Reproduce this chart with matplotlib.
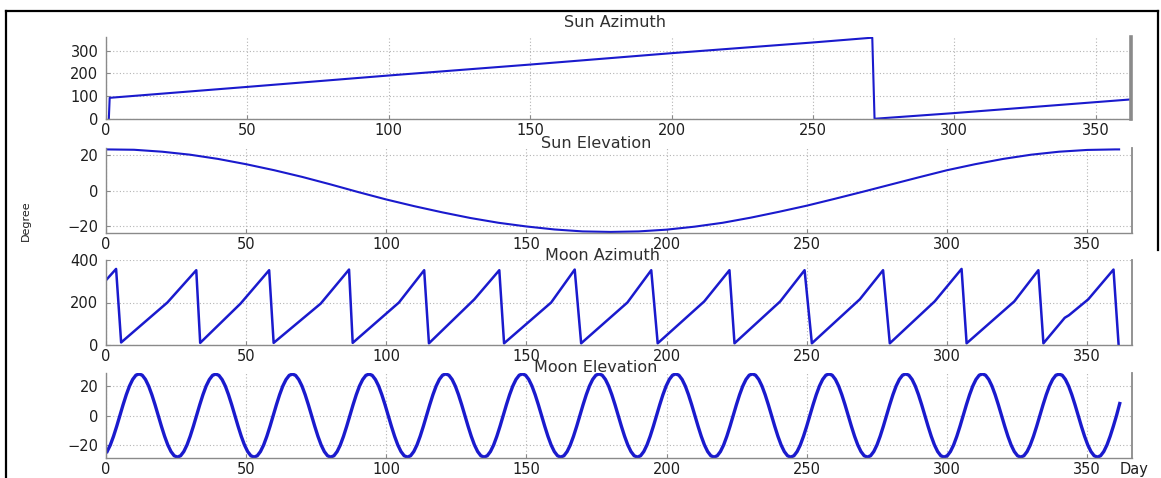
import numpy as np
import matplotlib
matplotlib.use("Agg")
import matplotlib.pyplot as plt
from matplotlib.lines import Line2D

# ---------------- data ----------------
titles = ["Sun Azimuth", "Sun Elevation", "Moon Azimuth", "Moon Elevation"]

sun_az_day = [1.0, 1.3, 50, 100, 150, 200, 250, 271.0, 271.8, 300, 362.5]
sun_az_val = [0, 93, 141, 191, 239, 289, 336, 357, 1, 26, 86]

sun_el_day = [0, 10, 20, 30, 40, 50, 60, 70, 80, 90, 100, 110, 120, 130, 140, 150,
              160, 170, 180, 190, 200, 210, 220, 230, 240, 250, 260, 270, 280, 290,
              300, 310, 320, 330, 340, 350, 360, 361.4]
sun_el_val = [23.4, 23.2, 22.1, 20.4, 18.0, 15.0, 11.6, 7.8, 3.6, -0.8, -5.0, -8.8,
              -12.3, -15.5, -18.2, -20.3, -22.0, -23.1, -23.4, -23.1, -22.1, -20.4,
              -18.2, -15.3, -12.0, -8.5, -4.6, -0.6, 3.5, 7.6, 11.6, 15.0, 18.0,
              20.4, 22.1, 23.1, 23.4, 23.4]

moon_az_day = [0, 3.6, 5.4, 21.9, 32.2, 33.6, 48.0, 58.2, 59.8, 76.6, 86.7, 88.0,
               104.5, 113.5, 115.2, 131.4, 140.3, 142.0, 158.8, 167.2, 169.5,
               186.0, 194.5, 196.8, 213.4, 222.4, 224.2, 240.5, 249.2, 251.8,
               268.9, 277.2, 279.6, 295.6, 305.2, 307.0, 324.0, 332.6, 334.4,
               342.0, 343.5, 350.4, 359.4, 361.2]
moon_az_val = [305, 358, 12, 200, 352, 10, 195, 352, 10, 195, 355, 10,
               200, 352, 8, 215, 352, 8, 200, 355, 8,
               200, 352, 8, 205, 352, 8, 205, 352, 8,
               215, 352, 8, 205, 358, 8, 205, 352, 8,
               128, 140, 215, 355, 5]

# moon elevation sampled every 1.1395 days starting at day 0.4
moon_el_start = 0.4
moon_el_step = 1.1395
moon_el_val = [
    -24.1, -19.7, -13.9, -7.2, 0.0, 7.2, 13.9, 19.7, 24.1, 26.9, 27.8, 26.9,
    24.1, 19.7, 13.9, 7.2, 0.0, -7.2, -13.9, -19.7, -24.1, -26.9, -27.8, -26.9,
    -24.1, -19.7, -13.9, -7.2, 0.0, 7.2, 13.9, 19.7, 24.0, 26.8, 27.7, 26.8,
    24.0, 19.7, 13.9, 7.2, 0.0, -7.2, -13.9, -19.7, -24.1, -26.9, -27.8, -26.9,
    -24.1, -19.7, -13.9, -7.2, 0.0, 7.2, 13.9, 19.7, 24.0, 26.8, 27.7, 26.8,
    24.0, 19.7, 13.9, 7.2, 0.0, -7.2, -13.9, -19.7, -24.1, -26.9, -27.8, -26.9,
    -24.1, -19.7, -13.9, -7.2, 0.0, 7.2, 13.9, 19.7, 24.0, 26.8, 27.7, 26.8,
    24.0, 19.7, 13.9, 7.2, 0.0, -7.2, -13.9, -19.7, -24.1, -26.9, -27.8, -26.9,
    -24.1, -19.7, -13.9, -7.2, 0.0, 7.2, 13.9, 19.7, 24.1, 26.9, 27.8, 26.9,
    24.1, 19.7, 13.9, 7.2, 0.0, -7.2, -13.9, -19.7, -24.1, -26.9, -27.8, -26.9,
    -24.1, -19.7, -13.9, -7.2, 0.0, 7.2, 13.9, 19.7, 24.1, 26.9, 27.8, 26.9,
    24.1, 19.7, 13.9, 7.2, 0.0, -7.2, -13.9, -19.7, -24.1, -26.9, -27.8, -26.9,
    -24.1, -19.7, -13.9, -7.2, 0.0, 7.2, 13.9, 19.7, 24.1, 26.9, 27.8, 26.9,
    24.1, 19.7, 13.9, 7.2, 0.0, -7.2, -13.9, -19.7, -24.1, -26.9, -27.8, -26.9,
    -24.1, -19.7, -13.9, -7.2, 0.0, 7.2, 13.9, 19.7, 24.1, 26.9, 27.8, 26.9,
    24.1, 19.7, 13.9, 7.2, 0.0, -7.2, -13.9, -19.7, -24.1, -26.9, -27.8, -26.9,
    -24.1, -19.7, -13.9, -7.2, 0.0, 7.2, 13.9, 19.7, 24.1, 26.9, 27.8, 26.9,
    24.1, 19.7, 13.9, 7.2, 0.0, -7.2, -13.9, -19.7, -24.1, -26.9, -27.8, -26.9,
    -24.1, -19.7, -13.9, -7.2, 0.0, 7.2, 13.9, 19.7, 24.1, 26.9, 27.8, 26.9,
    24.1, 19.7, 13.9, 7.2, 0.0, -7.2, -13.9, -19.7, -24.1, -26.9, -27.8, -26.9,
    -24.1, -19.7, -13.9, -7.2, 0.0, 7.2, 13.9, 19.7, 24.1, 26.9, 27.8, 26.9,
    24.1, 19.7, 13.9, 7.2, 0.0, -7.2, -13.9, -19.7, -24.1, -26.9, -27.8, -26.9,
    -24.1, -19.7, -13.9, -7.2, 0.0, 7.2, 13.9, 19.7, 24.1, 26.9, 27.8, 26.9,
    24.1, 19.7, 13.9, 7.2, 0.0, -7.2, -13.9, -19.7, -24.1, -26.9, -27.8, -26.9,
    -24.1, -19.7, -13.9, -7.2, 0.0, 7.2, 13.9, 19.7, 24.1, 26.9, 27.6, 26.9,
    24.1, 19.7, 13.9, 7.2, 0.0, -7.2, -13.9, -19.7, -24.1, -26.9, -27.8, -26.9,
    -24.1, -19.7, -13.9, -7.2, 0.0, 8.0,
]
moon_el_day = moon_el_start + moon_el_step * np.arange(len(moon_el_val))

x_ticks = [0, 50, 100, 150, 200, 250, 300, 350]
y_ticks = [[0, 100, 200, 300], [-20, 0, 20], [0, 200, 400], [-20, 0, 20]]

# ---------------- figure ----------------
plt.rcParams["font.family"] = ["DejaVu Sans"]
W, H = 1161, 478
fig = plt.figure(figsize=(W / 100, H / 100), dpi=100)

BLUE = "#1a1acd"
GRID = "#b4b4b4"
SPINE = "#8a8a8a"
TXT = "#1e1e1e"


def px_axes(l, t, r, b):
    return fig.add_axes([l / W, 1 - b / H, (r - l) / W, (b - t) / H])


def style(ax, xlim, ylim, yt, right_lw=1.3):
    ax.set_xlim(*xlim)
    ax.set_ylim(*ylim)
    ax.set_xticks(x_ticks)
    ax.set_yticks(yt)
    ax.grid(True, linestyle=(0, (1, 2)), color=GRID, linewidth=0.8)
    ax.set_axisbelow(True)
    ax.spines["top"].set_visible(False)
    for s in ["left", "bottom"]:
        ax.spines[s].set_color(SPINE)
        ax.spines[s].set_linewidth(1.0)
    ax.spines["right"].set_color(SPINE)
    ax.spines["right"].set_linewidth(right_lw)
    ax.tick_params(direction="in", length=3, width=0.8, color=SPINE,
                   labelsize=10.5, labelcolor=TXT)
    ax.tick_params(axis="x", pad=3.2)
    ax.tick_params(axis="y", pad=5.5)


def title(ax, text, xc, dy):
    ax.annotate(text, xy=(xc, 1), xycoords="axes fraction", xytext=(0, dy),
                textcoords="offset points", ha="center", va="baseline",
                fontsize=11.5, color="#303030")


ax1 = px_axes(106, 37, 1131, 119)
ax1.plot(sun_az_day, sun_az_val, color=BLUE, lw=1.5)
style(ax1, (0.95, 362.5), (0, 360), y_ticks[0], right_lw=2.6)
title(ax1, titles[0], 0.4966, 7.2)

ax2 = px_axes(106, 148, 1132, 233)
ax2.plot(sun_el_day, sun_el_val, color=BLUE, lw=1.5)
style(ax2, (0, 366), (-24, 24.2), y_ticks[1])
title(ax2, titles[1], 0.478, 0)

ax3 = px_axes(106, 260, 1132, 345)
ax3.plot(moon_az_day, moon_az_val, color=BLUE, lw=1.8)
style(ax3, (0, 366), (0, 400), y_ticks[2])
title(ax3, titles[2], 0.484, 0)

ax4 = px_axes(106, 373, 1132, 458)
ax4.plot(moon_el_day, moon_el_val, color=BLUE, lw=2.4)
style(ax4, (0, 366), (-28.4, 28.4), y_ticks[3])
title(ax4, titles[3], 0.477, 0.7)
ax4.annotate("Day", xy=((1120 - 106) / 1026, 0), xycoords="axes fraction",
             xytext=(0, -3.2), textcoords="offset points", ha="left", va="top",
             fontsize=10.5, color=TXT)

fig.text(26 / W, 1 - 221 / H, "Degree", rotation=90, ha="center", va="center",
         fontsize=8, color=TXT)

# outer frame (partially visible in the reference)
for xs, ys in [([6, 1158], [11, 11]), ([6, 6], [11, 478]), ([1158, 1158], [11, 250])]:
    fig.add_artist(Line2D([x / W for x in xs], [1 - y / H for y in ys],
                          transform=fig.transFigure, color="black", lw=1.6))

fig.savefig("out.png", dpi=100)
